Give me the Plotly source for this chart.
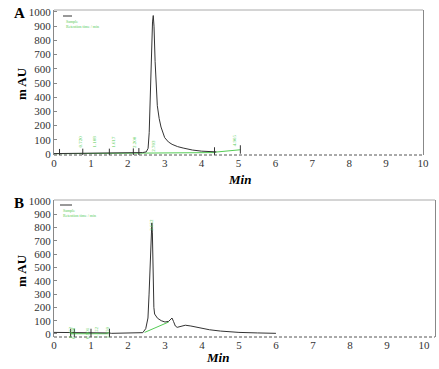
import plotly.graph_objects as go

# ---------------- data ----------------
# Panel A chromatogram
tA = [0, 0.5, 1.0, 1.5, 2.0, 2.3, 2.4, 2.5, 2.55, 2.58, 2.61, 2.64, 2.67, 2.69, 2.71, 2.74,
      2.77, 2.8, 2.85, 2.9, 3.0, 3.1, 3.2, 3.35, 3.5, 3.75, 4.0, 4.2, 4.4]
yA = [3, 4, 5, 5, 6, 8, 10, 15, 40, 150, 420, 720, 930, 975, 900, 650,
      450, 340, 250, 190, 115, 85, 68, 52, 42, 28, 20, 17, 15]
# integration baseline A
tGA = [0, 2.5, 4.35, 4.4, 5.05]
yGA = [2, 5, 10, 14, 30]
# peak retention-time labels A
pkA_t = [0.72, 1.10, 1.62, 2.20, 2.70, 4.90]
pkA_y = [85, 85, 85, 85, 55, 95]
pkA_txt = ["0.720", "1.108", "1.617", "2.200", "2.703", "4.905"]
# integration event ticks A
evA_t = [0.15, 0.78, 1.5, 2.15, 2.3, 4.35, 5.05]
evA_y = [6, 8, 8, 10, 12, 18, 32]

# Panel B chromatogram
tB = [0, 0.45, 0.5, 1.0, 1.5, 1.55, 2.0, 2.3, 2.4, 2.48, 2.54, 2.57, 2.6, 2.62, 2.645, 2.66,
      2.68, 2.7, 2.72, 2.75, 2.8, 2.9, 3.0, 3.1, 3.15, 3.19, 3.23, 3.28, 3.33, 3.42, 3.55,
      3.7, 3.9, 4.2, 4.5, 5.0, 5.5, 6.0]
yB = [12, 12, 8, 8, 8, 5, 5, 6, 10, 40, 120, 300, 550, 750, 835, 760,
      420, 200, 150, 135, 118, 100, 90, 95, 110, 120, 95, 60, 50, 58, 66,
      60, 48, 32, 22, 12, 8, 5]
# integration baseline B
tGB = [2.45, 3.1]
yGB = [12, 90]
tGB2 = [0.45, 1.45]
yGB2 = [2, 2]
# peak labels B
pkB_t = [2.645, 0.45, 0.52, 0.9, 1.15, 1.45]
pkB_y = [820, 10, 10, 10, 10, 10]
pkB_txt = ["2.652", "0.452", "0.520", "0.901", "1.152", "1.450"]
evB_t = [0.45, 0.55, 1.0, 1.5]
evB_y = [8, 8, 8, 8]

xticks = list(range(0, 11))
yticks = list(range(0, 1001, 100))

W, H = 439, 369
FONT = "Liberation Serif"
BLACK = "#333333"
GREEN = "#55cc55"
AX = "#888888"


def fx(p):
    return p / W


def fy(p):
    return 1 - p / H


def px(x, y):
    return fx(x), fy(y)


fig = go.Figure()

# Panel A
fig.add_trace(go.Scatter(x=tGA, y=yGA, mode="lines", line=dict(color=GREEN, width=1),
                         xaxis="x", yaxis="y", showlegend=False, hoverinfo="skip"))
fig.add_trace(go.Scatter(x=tA, y=yA, mode="lines", line=dict(color=BLACK, width=1),
                         xaxis="x", yaxis="y", showlegend=False))
fig.add_trace(go.Scatter(x=evA_t, y=evA_y, mode="markers",
                         marker=dict(symbol="line-ns", size=6, line=dict(color=BLACK, width=1)),
                         xaxis="x", yaxis="y", showlegend=False, hoverinfo="skip"))

# Panel B
fig.add_trace(go.Scatter(x=tGB, y=yGB, mode="lines", line=dict(color=GREEN, width=1),
                         xaxis="x2", yaxis="y2", showlegend=False, hoverinfo="skip"))
fig.add_trace(go.Scatter(x=tGB2, y=yGB2, mode="lines", line=dict(color=GREEN, width=1),
                         xaxis="x2", yaxis="y2", showlegend=False, hoverinfo="skip"))
fig.add_trace(go.Scatter(x=tB, y=yB, mode="lines", line=dict(color=BLACK, width=1),
                         xaxis="x2", yaxis="y2", showlegend=False))
fig.add_trace(go.Scatter(x=evB_t, y=evB_y, mode="markers",
                         marker=dict(symbol="line-ns", size=6, line=dict(color=BLACK, width=1)),
                         xaxis="x2", yaxis="y2", showlegend=False, hoverinfo="skip"))

annotations = []
for t, y, s in zip(pkA_t, pkA_y, pkA_txt):
    annotations.append(dict(x=t, y=y, xref="x", yref="y", text=s, showarrow=False,
                            textangle=-90, font=dict(family=FONT, size=5, color=GREEN)))
for t, y, s in zip(pkB_t, pkB_y, pkB_txt):
    annotations.append(dict(x=t, y=y, xref="x2", yref="y2", text=s, showarrow=False,
                            textangle=-90, font=dict(family=FONT, size=5, color=GREEN)))

# panel letters, axis titles
for lbl, (x, y) in [("A", (19, 13)), ("B", (19, 203))]:
    ax_, ay_ = px(x, y)
    annotations.append(dict(x=ax_, y=ay_, xref="paper", yref="paper", text="<b>%s</b>" % lbl,
                            showarrow=False, font=dict(family=FONT, size=15, color="black"),
                            xanchor="center", yanchor="middle"))
for (x, y) in [(21, 84), (21, 271)]:
    ax_, ay_ = px(x, y)
    annotations.append(dict(x=ax_, y=ay_, xref="paper", yref="paper", text="<b>m AU</b>",
                            textangle=-90, showarrow=False,
                            font=dict(family=FONT, size=13, color="black"),
                            xanchor="center", yanchor="middle"))
for (x, y) in [(239, 179), (217, 357)]:
    ax_, ay_ = px(x, y)
    annotations.append(dict(x=ax_, y=ay_, xref="paper", yref="paper", text="<b><i>Min</i></b>",
                            showarrow=False, font=dict(family=FONT, size=13, color="black"),
                            xanchor="center", yanchor="middle"))
# tiny legend texts
for (x, y) in [(64, 24), (61, 213)]:
    ax_, ay_ = px(x, y)
    annotations.append(dict(x=ax_, y=ay_, xref="paper", yref="paper",
                            text="Sample<br>Retention time / min", showarrow=False,
                            align="left", font=dict(family=FONT, size=4, color=GREEN),
                            xanchor="left", yanchor="middle"))

shapes = []
for xr, yr in [("x", "y"), ("x2", "y2")]:
    shapes.append(dict(type="line", xref=xr + " domain", yref=yr + " domain",
                       x0=0, x1=1, y0=1, y1=1, line=dict(color="#aaaaaa", width=1)))
    shapes.append(dict(type="line", xref=xr + " domain", yref=yr + " domain",
                       x0=0, x1=1, y0=0, y1=0, line=dict(color="#555555", width=1, dash="3px,2px")))
# legend line samples
for (x0, x1, y) in [(63, 72, 16), (60, 72, 205)]:
    a0, b0 = px(x0, y)
    a1, _ = px(x1, y)
    shapes.append(dict(type="line", xref="paper", yref="paper", x0=a0, x1=a1, y0=b0, y1=b0,
                       line=dict(color=BLACK, width=1)))

tickfont = dict(family=FONT, size=11, color="#333333")

fig.update_layout(
    width=W, height=H,
    margin=dict(l=0, r=0, t=0, b=0, autoexpand=False),
    paper_bgcolor="white", plot_bgcolor="white",
    showlegend=False,
    annotations=annotations,
    shapes=shapes,
    xaxis=dict(domain=[fx(54), fx(423)], range=[0, 10], anchor="y", automargin=False,
               tickvals=xticks, ticktext=[str(v) for v in xticks], tickfont=tickfont,
               showgrid=False, zeroline=False, showline=False, ticks=""),
    yaxis=dict(domain=[fy(155), fy(10)], range=[-7, 1014], anchor="x", automargin=False,
               tickvals=yticks, ticktext=[str(v) for v in yticks], tickfont=tickfont,
               showgrid=False, zeroline=False, showline=True, linecolor=AX, linewidth=1,
               mirror=True, ticks="inside", ticklen=3, tickcolor=AX),
    xaxis2=dict(domain=[fx(54), fx(435)], range=[0, 10.3], anchor="y2", automargin=False,
                tickvals=xticks, ticktext=[str(v) for v in xticks], tickfont=tickfont,
                showgrid=False, zeroline=False, showline=False, ticks=""),
    yaxis2=dict(domain=[fy(337), fy(200)], range=[-22.6, 1007.5], anchor="x2",
                automargin=False,
                tickvals=yticks, ticktext=[str(v) for v in yticks], tickfont=tickfont,
                showgrid=False, zeroline=False, showline=True, linecolor=AX, linewidth=1,
                mirror=True, ticks="inside", ticklen=3, tickcolor=AX),
)

fig.write_html("out.html",
               config={"displayModeBar": False},
               post_script="document.body.style.margin='0px';"
                           "document.documentElement.style.overflow='hidden';")
